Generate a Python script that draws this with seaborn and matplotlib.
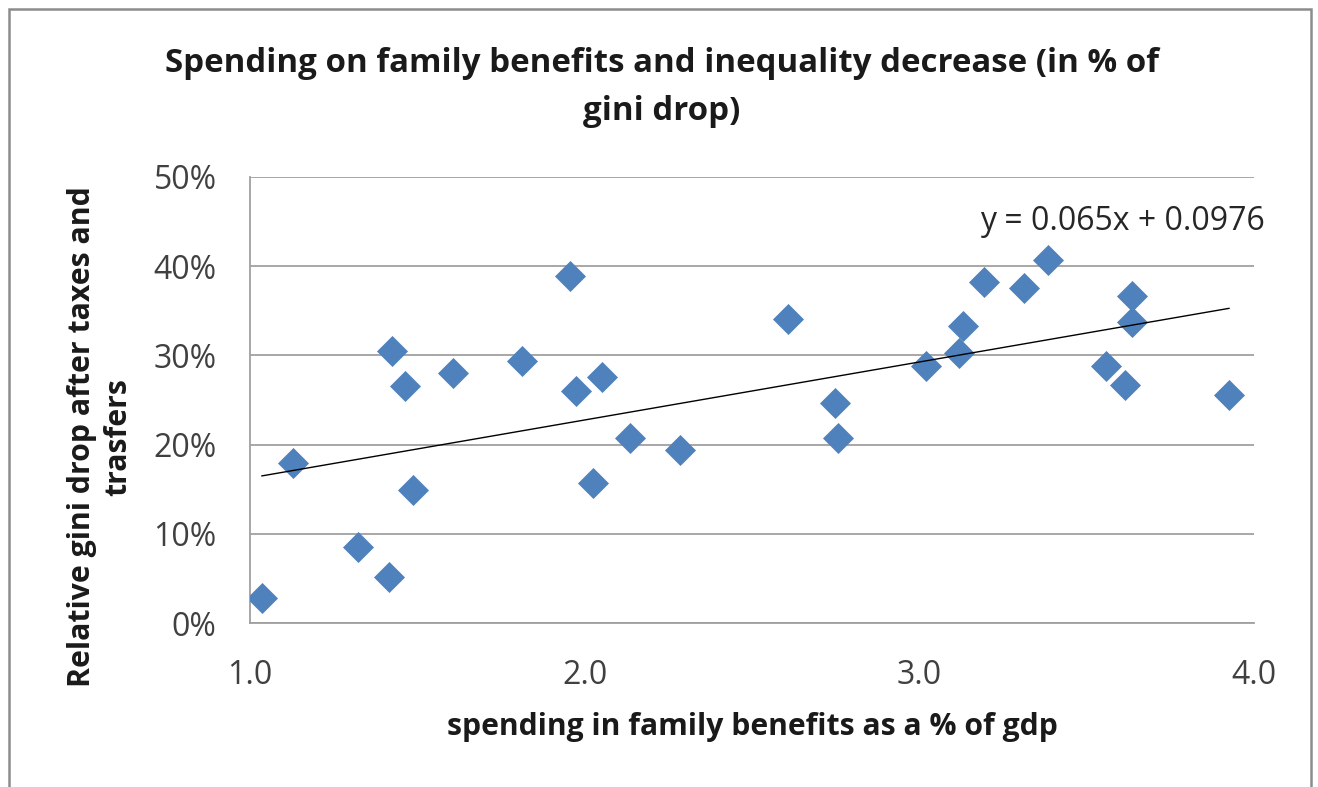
import numpy as np
import pandas as pd
import matplotlib
matplotlib.use("Agg")
import matplotlib.pyplot as plt
from matplotlib.patches import Rectangle
from matplotlib.ticker import FuncFormatter, MultipleLocator
import seaborn as sns

# Family-benefit spending (% of GDP) and relative Gini drop after taxes and transfers
spending = [1.035, 1.128, 1.322, 1.415, 1.425, 1.462, 1.488, 1.607, 1.812, 1.957,
            1.973, 2.025, 2.051, 2.134, 2.285, 2.607, 2.747, 2.756, 3.019, 3.119,
            3.131, 3.193, 3.312, 3.383, 3.558, 3.616, 3.635, 3.635, 3.926]
gini_drop = [0.028, 0.179, 0.085, 0.052, 0.305, 0.266, 0.149, 0.280, 0.294, 0.389,
             0.260, 0.157, 0.276, 0.207, 0.194, 0.341, 0.247, 0.207, 0.288, 0.303,
             0.333, 0.382, 0.376, 0.407, 0.288, 0.267, 0.367, 0.337, 0.256]

# Linear trend reported on the chart
slope = 0.065
intercept = 0.0976

title_text = "Spending on family benefits and inequality decrease (in % of\ngini drop)"
x_label = "spending in family benefits as a % of gdp"
y_label = "Relative gini drop after taxes and\ntrasfers"

sns.set_theme(style="white")
plt.rcParams["font.family"] = ["Open Sans", "DejaVu Sans"]

W, H = 1318, 787
fig = plt.figure(figsize=(W / 100, H / 100), dpi=100)
ax = fig.add_axes([250 / W, 1 - 623 / H, (1254 - 250) / W, (623 - 177) / H])

df = pd.DataFrame({"spending": spending, "gini_drop": gini_drop})
blue = "#4F81BD"
grid_gray = "#A0A0A0"

sns.scatterplot(data=df, x="spending", y="gini_drop", marker="D", s=250,
                color=blue, linewidth=0, ax=ax, zorder=3)

trend_x = np.array([min(spending), max(spending)])
sns.lineplot(x=trend_x, y=slope * trend_x + intercept, color="black",
             linewidth=1.0, ax=ax, zorder=4)

ax.set_xlim(1.0, 4.0)
ax.set_ylim(0.0, 0.5)
ax.xaxis.set_major_locator(MultipleLocator(1.0))
ax.yaxis.set_major_locator(MultipleLocator(0.1))
ax.xaxis.set_major_formatter(FuncFormatter(lambda v, p: f"{v:.1f}"))
ax.yaxis.set_major_formatter(FuncFormatter(lambda v, p: f"{v * 100:.0f}%"))

ax.yaxis.grid(True, color=grid_gray, linewidth=1.3)
ax.xaxis.grid(False)
ax.set_axisbelow(True)
for side in ("top", "right"):
    ax.spines[side].set_visible(False)
for side in ("left", "bottom"):
    ax.spines[side].set_color(grid_gray)
    ax.spines[side].set_linewidth(1.3)

ax.tick_params(axis="both", length=0, labelsize=23, labelcolor="#404040")
ax.tick_params(axis="y", pad=24)
ax.tick_params(axis="x", pad=26)
ax.set_xlabel("")
ax.set_ylabel("")

fig.text(1122 / W, 1 - 222 / H, "y = 0.065x + 0.0976", ha="center", va="center",
         fontsize=23, color="#262626")

fig.text(662 / W, 1 - 88 / H, title_text, ha="center", va="center",
         fontsize=23.8, fontweight="bold", color="#1a1a1a", linespacing=1.6)
fig.text(752 / W, 1 - 727 / H, x_label, ha="center", va="center",
         fontsize=21.7, fontweight="bold", color="#1a1a1a")
fig.text(100 / W, 1 - 437 / H, y_label, ha="center", va="center", rotation=90,
         fontsize=21.8, fontweight="bold", color="#1a1a1a", linespacing=1.25)

fig.patches.append(Rectangle((9 / W, -0.05), 1302 / W, 1.05 - 9 / H,
                             transform=fig.transFigure, fill=False,
                             edgecolor="#8C8C8C", linewidth=1.8))

fig.savefig("out.png", dpi=100, facecolor="white")
